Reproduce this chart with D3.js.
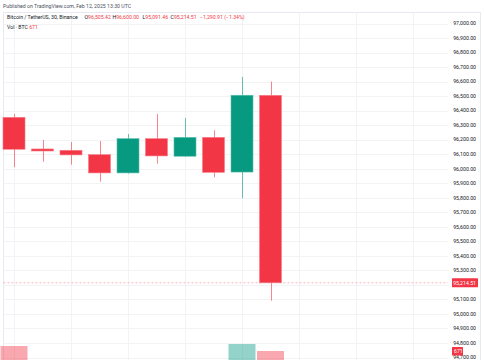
<!DOCTYPE html>
<html><head><meta charset="utf-8">
<script src="https://cdn.jsdelivr.net/npm/d3@7"></script>
<style>
html,body{margin:0;padding:0;background:#fff;}
svg{display:block;font-family:Roboto,"Liberation Sans",Arial,sans-serif;}
</style></head>
<body>
<svg id="chart" width="485" height="360"></svg>
<script>
// ---- data ----
const times = ["09:00","09:30","10:00","10:30","11:00","11:30","12:00","12:30","13:00","13:30"];
const open  = [96354, 96136, 96127, 96097, 95971, 96207, 96086, 96216, 95977, 96505.42];
const high  = [96377, 96198, 96184, 96191, 96239, 96377, 96349, 96265, 96632, 96600.00];
const low   = [96010, 96048, 96028, 95911, 95966, 96035, 96083, 95941, 95796, 95091.46];
const close = [96134, 96122, 96095, 95971, 96207, 96088, 96216, 95975, 96506, 95214.51];
const volume = [830, 250, 180, 310, 220, 160, 140, 290, 895, 671];
const priceTicks = d3.range(94700, 97001, 100);
const lastClose = 95214.51, lastVolume = 671;

const red = "#F23645", green = "#089981";
const svg = d3.select("#chart");

const x = d3.scaleLinear().domain([0, 15]).range([14, 14 + 28.5 * 15]);
const y = d3.scaleLinear().domain([94700, 97000]).range([357.5, 23.5]);
const yv = d3.scaleLinear().domain([0, 671]).range([372, 351]);
const plotL = 3.5, plotR = 448, plotT = 12.5, frameR = 480.5;

// frame
svg.append("line").attr("x1", plotL).attr("x2", frameR).attr("y1", plotT).attr("y2", plotT).attr("stroke", "#e0e3eb").attr("stroke-width", 0.8);
svg.append("line").attr("x1", plotL).attr("x2", plotL).attr("y1", plotT).attr("y2", 360).attr("stroke", "#e0e3eb").attr("stroke-width", 0.8);
svg.append("line").attr("x1", frameR).attr("x2", frameR).attr("y1", plotT).attr("y2", 360).attr("stroke", "#e0e3eb").attr("stroke-width", 0.8);

// grid
const grid = svg.append("g");
grid.selectAll("line.h").data(priceTicks).join("line")
  .attr("x1", plotL).attr("x2", plotR)
  .attr("y1", d => Math.round(y(d)) + 0.5).attr("y2", d => Math.round(y(d)) + 0.5)
  .attr("stroke", "#f2f3f5").attr("stroke-width", 1);
grid.selectAll("line.v").data(d3.range(0, 15, 2)).join("line")
  .attr("x1", d => Math.round(x(d)) + 0.5).attr("x2", d => Math.round(x(d)) + 0.5)
  .attr("y1", plotT).attr("y2", 360)
  .attr("stroke", "#f2f3f5").attr("stroke-width", 1);

// volume
const idx = d3.range(times.length);
const vw = 27;
svg.append("g").selectAll("rect").data(idx).join("rect")
  .attr("x", i => x(i) - vw / 2).attr("width", vw)
  .attr("y", i => yv(volume[i])).attr("height", i => yv(0) - yv(volume[i]))
  .attr("fill", i => close[i] >= open[i] ? green : red)
  .attr("fill-opacity", 0.43);

// last price line
svg.append("line").attr("x1", plotL).attr("x2", plotR)
  .attr("y1", y(lastClose)).attr("y2", y(lastClose))
  .attr("stroke", red).attr("stroke-opacity", 0.45).attr("stroke-width", 0.8)
  .attr("stroke-dasharray", "2,2");

// candles
const bw = 22;
const cg = svg.append("g");
cg.selectAll("line").data(idx).join("line")
  .attr("x1", i => Math.round(x(i)) + 0.5).attr("x2", i => Math.round(x(i)) + 0.5)
  .attr("y1", i => y(high[i])).attr("y2", i => y(low[i]))
  .attr("stroke", i => close[i] >= open[i] ? green : red)
  .attr("stroke-opacity", 0.6).attr("stroke-width", 1);
cg.selectAll("rect").data(idx).join("rect")
  .attr("x", i => x(i) - bw / 2).attr("width", bw)
  .attr("y", i => y(Math.max(open[i], close[i])))
  .attr("height", i => Math.max(1, Math.abs(y(open[i]) - y(close[i]))))
  .attr("fill", i => close[i] >= open[i] ? green : red)
  .attr("stroke", i => close[i] >= open[i] ? "#5cc0ae" : "#f77c86").attr("stroke-width", 0.6);

// price axis labels (labels hidden under the price tag are skipped, as in the reference)
const fmt = d3.format(",.2f");
const visibleTicks = priceTicks.filter(d => Math.abs(y(d) - y(lastClose)) > 8);
svg.append("g").selectAll("text").data(visibleTicks).join("text")
  .attr("x", 476).attr("y", d => y(d)).attr("dy", "0.35em")
  .attr("text-anchor", "end").attr("font-size", 5.2).attr("fill", "#131722")
  .text(d => fmt(d));

// last price tag
const tag = svg.append("g");
tag.append("rect").attr("x", 452).attr("y", y(lastClose) - 4.5).attr("width", 26).attr("height", 9).attr("fill", red).attr("rx", 0.5);
tag.append("text").attr("x", 476).attr("y", y(lastClose)).attr("dy", "0.35em").attr("text-anchor", "end")
  .attr("font-size", 5.2).attr("fill", "#fff").text(fmt(lastClose));
// volume tag
tag.append("rect").attr("x", 452).attr("y", yv(lastVolume) - 4).attr("width", 11).attr("height", 8.5).attr("fill", red).attr("rx", 0.5);
tag.append("text").attr("x", 454).attr("y", yv(lastVolume) + 0.3).attr("dy", "0.35em")
  .attr("font-size", 5.2).attr("fill", "#fff").text(String(lastVolume));

// header texts
svg.append("text").attr("x", 3).attr("y", 8).attr("font-size", 5.2).attr("fill", "#4a4f5c")
  .text("Published on TradingView.com, Feb 12, 2025 13:30 UTC");

const leg = svg.append("g").attr("font-size", 5.2);
const l1 = 19;
leg.append("text").attr("x", 7).attr("y", l1).attr("fill", "#131722").text("Bitcoin / TetherUS, 30, Binance");
const parts = [
  ["O", fmt(open[9]), 84.5],
  ["H", fmt(high[9]), 112.5],
  ["L", fmt(low[9]), 142.5],
  ["C", fmt(close[9]), 170.5]
];
parts.forEach(p => {
  const t = leg.append("text").attr("x", p[2]).attr("y", l1);
  t.append("tspan").attr("fill", "#131722").text(p[0]);
  t.append("tspan").attr("fill", red).text(p[1]);
});
const chg = close[9] - open[9];
leg.append("text").attr("x", 200).attr("y", l1).attr("fill", red)
  .text("\u2212" + fmt(Math.abs(chg)) + " (\u2212" + (Math.abs(chg) / open[9] * 100).toFixed(2) + "%)");
const t3 = leg.append("text").attr("x", 7).attr("y", 28.5);
t3.append("tspan").attr("fill", "#131722").text("Vol \u00b7 BTC ");
t3.append("tspan").attr("fill", red).text(" " + lastVolume);
</script>
</body></html>
